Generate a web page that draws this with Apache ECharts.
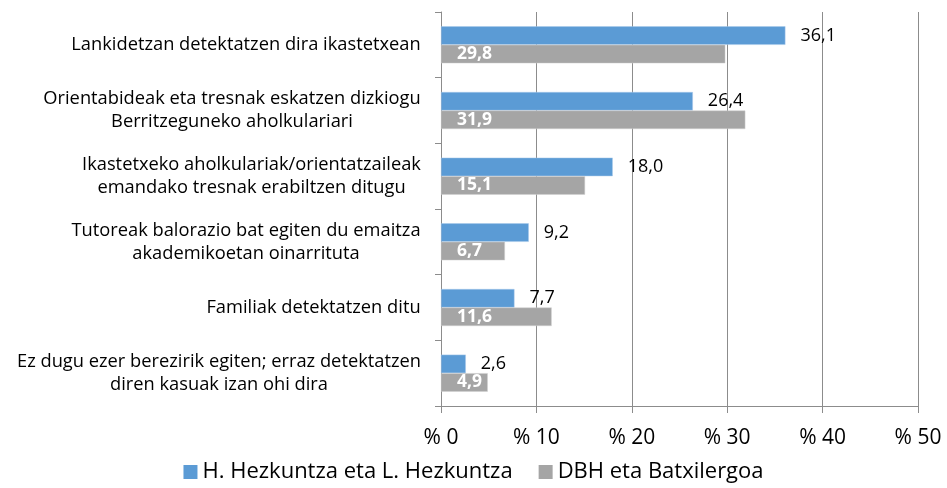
<!DOCTYPE html>
<html>
<head>
<meta charset="utf-8">
<script src="https://cdn.jsdelivr.net/npm/echarts@6/dist/echarts.min.js"></script>
<style>
  html, body { margin: 0; padding: 0; background: #fff; }
  #chart { width: 947px; height: 488px; }
</style>
</head>
<body>
<div id="chart"></div>
<script>
// categories, top to bottom
const categories = [
  'Lankidetzan detektatzen dira ikastetxean',
  'Orientabideak eta tresnak eskatzen dizkiogu\nBerritzeguneko aholkulariari',
  'Ikastetxeko aholkulariak/orientatzaileak\nemandako tresnak erabiltzen ditugu',
  'Tutoreak balorazio bat egiten du emaitza\nakademikoetan oinarrituta',
  'Familiak detektatzen ditu',
  'Ez dugu ezer berezirik egiten; erraz detektatzen\ndiren kasuak izan ohi dira'
]
const seriesNames = ['H. Hezkuntza eta L. Hezkuntza', 'DBH eta Batxilergoa']
const hlhValues = [36.1, 26.4, 18.0, 9.2, 7.7, 2.6]
const dbhValues = [29.8, 31.9, 15.1, 6.7, 11.6, 4.9]
const xTicks = [0, 10, 20, 30, 40, 50]

const fmt = (v) => v.toFixed(1).replace('.', ',')
const font = '"Open Sans", "Noto Sans", sans-serif'
const catFontSize = 18.3

// multi-line labels: lines centred on their widest line, block right-aligned at the axis
const ctx = document.createElement('canvas').getContext('2d')
ctx.font = catFontSize + 'px ' + font
const catRich = {}
categories.forEach((c, i) => {
  const w = Math.max(...c.split('\n').map((l) => ctx.measureText(l).width))
  catRich['l' + i] = {
    width: Math.ceil(w),
    align: 'center',
    fontSize: catFontSize,
    lineHeight: 23,
    color: '#000',
    fontFamily: font
  }
})

let myChart = echarts.init(document.getElementById('chart'))
myChart.setOption({
  backgroundColor: '#fff',
  textStyle: { fontFamily: font },
  grid: {
    left: 441,
    right: 29,
    top: 12,
    bottom: 82,
    outerBoundsMode: 'none',
    containLabel: false
  },
  legend: {
    bottom: 0,
    left: 'center',
    itemWidth: 14,
    itemHeight: 14,
    itemGap: 26,
    icon: 'rect',
    itemStyle: { borderWidth: 0 },
    textStyle: { fontSize: 22, color: '#000', fontFamily: font },
    data: seriesNames
  },
  xAxis: {
    type: 'value',
    min: xTicks[0],
    max: xTicks[xTicks.length - 1],
    interval: 10,
    axisLine: { show: true, lineStyle: { color: '#8c8c8c' } },
    axisTick: { show: true, length: 7, lineStyle: { color: '#8c8c8c' } },
    axisLabel: {
      formatter: (v) => '% ' + v,
      fontSize: 21,
      color: '#000',
      margin: 22
    },
    splitLine: { show: true, lineStyle: { color: '#8c8c8c', width: 1 } }
  },
  yAxis: {
    type: 'category',
    inverse: true,
    data: categories,
    axisLine: { show: true, lineStyle: { color: '#8c8c8c' } },
    axisTick: { show: true, length: 6, lineStyle: { color: '#8c8c8c' } },
    axisLabel: {
      fontSize: catFontSize,
      color: '#000',
      margin: 20,
      align: 'right',
      lineHeight: 23,
      formatter: (v, i) => v.split('\n').map((l) => '{l' + i + '|' + l + '}').join('\n'),
      rich: catRich
    }
  },
  series: [
    {
      name: seriesNames[0],
      type: 'bar',
      data: hlhValues,
      barWidth: 18.5,
      barGap: '0%',
      itemStyle: { color: '#5b9bd5', borderColor: '#a9c8ea', borderWidth: 0.5 },
      label: {
        show: true,
        position: 'right',
        distance: 15,
        color: '#000',
        fontSize: 18,
        formatter: (p) => fmt(p.value)
      }
    },
    {
      name: seriesNames[1],
      type: 'bar',
      data: dbhValues,
      barWidth: 18.5,
      barGap: '0%',
      itemStyle: { color: '#a5a5a5', borderColor: '#d0d0d0', borderWidth: 0.5 },
      label: {
        show: true,
        position: 'insideLeft',
        distance: 16,
        color: '#fff',
        fontWeight: 'bold',
        fontSize: 17.5,
        formatter: (p) => fmt(p.value)
      }
    }
  ]
})
</script>
</body>
</html>
